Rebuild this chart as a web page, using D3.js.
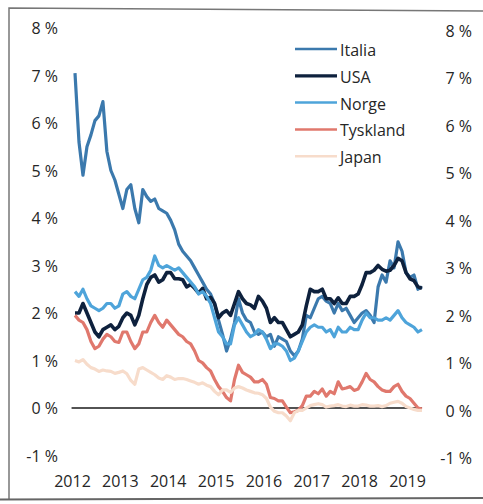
<!DOCTYPE html>
<html>
<head>
<meta charset="utf-8">
<script src="https://cdn.jsdelivr.net/npm/d3@7"></script>
<style>
  html, body { margin: 0; padding: 0; background: #fff; }
  svg { display: block; }
  text { font-family: "Open Sans", "DejaVu Sans", sans-serif; fill: #262626; }
</style>
</head>
<body>
<svg id="chart" width="483" height="504"></svg>
<script>
// ---- data (monthly, Jan 2012 – Apr 2019) ----
const startYear = 2012;
const yearTicks = [2012, 2013, 2014, 2015, 2016, 2017, 2018, 2019];
const pctTicks = [-1, 0, 1, 2, 3, 4, 5, 6, 7, 8];
const seriesNames = ["Italia", "USA", "Norge", "Tyskland", "Japan"];

const italia = [
  7.05, 5.6, 4.9, 5.5, 5.75, 6.05, 6.15, 6.45, 5.4, 5.0, 4.8, 4.5,
  4.2, 4.6, 4.7, 4.2, 3.9, 4.6, 4.45, 4.35, 4.4, 4.2, 4.15, 4.1,
  3.95, 3.75, 3.45, 3.3, 3.2, 3.1, 2.95, 2.8, 2.65, 2.5, 2.4, 2.2,
  1.85, 1.55, 1.2, 1.45, 1.8, 2.3, 2.0, 1.85, 1.8, 1.6, 1.55, 1.6,
  1.5, 1.55, 1.3, 1.5, 1.45, 1.4, 1.2, 1.1, 1.2, 1.45, 1.95, 1.9,
  2.1, 2.3, 2.35, 2.25, 2.2, 2.0, 2.2, 2.05, 2.1, 1.95, 1.8, 1.9,
  2.0, 2.05, 1.95, 1.8, 2.55, 2.8, 2.65, 3.1, 2.95, 3.5, 3.3, 2.85,
  2.75, 2.8, 2.5, 2.55
];
const usa = [
  2.0, 2.0, 2.2, 2.0, 1.8, 1.6, 1.5, 1.65, 1.7, 1.75, 1.65, 1.72,
  1.9, 2.0, 1.95, 1.75, 1.95, 2.3, 2.6, 2.75, 2.8, 2.65, 2.7, 2.85,
  2.85, 2.72, 2.72, 2.7, 2.55, 2.6, 2.52, 2.42, 2.52, 2.3, 2.33, 2.2,
  1.9, 2.0, 2.05, 1.95, 2.2, 2.45, 2.3, 2.2, 2.17, 2.1, 2.35, 2.25,
  2.1, 1.8, 1.9, 1.8, 1.8, 1.65, 1.5, 1.55, 1.6, 1.75, 2.15, 2.5,
  2.45, 2.45, 2.5, 2.3, 2.3, 2.2, 2.32, 2.2, 2.2, 2.35, 2.35, 2.4,
  2.6, 2.85, 2.85, 2.9, 3.0, 2.92, 2.88, 2.9, 3.0, 3.15, 3.1, 2.85,
  2.72, 2.68, 2.55, 2.52
];
const norge = [
  2.45, 2.35, 2.5, 2.3, 2.15, 2.1, 2.05, 2.1, 2.2, 2.2, 2.1, 2.15,
  2.4, 2.45, 2.35, 2.3, 2.5, 2.7, 2.75, 2.9, 3.2, 3.0, 2.95, 3.0,
  2.95, 2.9, 2.95, 2.85, 2.75, 2.65, 2.55, 2.4, 2.45, 2.35, 2.2, 1.9,
  1.6, 1.5, 1.35, 1.35, 1.75, 1.9, 1.75, 1.6, 1.5, 1.55, 1.65, 1.6,
  1.45, 1.25, 1.35, 1.35, 1.3, 1.2, 1.0, 1.05, 1.2, 1.4, 1.6, 1.7,
  1.75, 1.7, 1.7, 1.6, 1.65, 1.5, 1.7, 1.6, 1.6, 1.7, 1.65, 1.65,
  1.85, 2.0, 1.9, 1.9, 1.85, 1.85, 1.9, 1.85, 1.95, 2.05, 1.9, 1.8,
  1.75, 1.7, 1.6, 1.65
];
const tyskland = [
  1.95, 1.85, 1.8, 1.65, 1.4, 1.25, 1.3, 1.45, 1.55, 1.5, 1.4, 1.38,
  1.6, 1.6, 1.4, 1.25, 1.35, 1.6, 1.6, 1.8, 1.95, 1.8, 1.7, 1.85,
  1.75, 1.65, 1.55, 1.5, 1.4, 1.35, 1.2, 1.0, 0.95, 0.85, 0.78, 0.6,
  0.45, 0.35, 0.22, 0.15, 0.6, 0.9, 0.75, 0.7, 0.65, 0.55, 0.55, 0.6,
  0.5, 0.22, 0.2, 0.15, 0.15, 0.02, -0.1, -0.08, -0.05, 0.05, 0.25, 0.25,
  0.35, 0.3, 0.4, 0.25, 0.35, 0.3, 0.55, 0.4, 0.42, 0.45, 0.37, 0.4,
  0.55, 0.73, 0.6, 0.55, 0.45, 0.38, 0.35, 0.35, 0.45, 0.5, 0.35, 0.25,
  0.2, 0.1, 0.0, -0.02
];
const japan = [
  1.0, 0.97, 1.02, 0.92, 0.85, 0.82, 0.77, 0.8, 0.78, 0.77, 0.73, 0.75,
  0.78, 0.72, 0.58, 0.5, 0.82, 0.85, 0.8, 0.75, 0.7, 0.63, 0.6, 0.68,
  0.65, 0.6, 0.62, 0.62, 0.6, 0.57, 0.54, 0.5, 0.53, 0.48, 0.45, 0.35,
  0.28, 0.38, 0.38, 0.33, 0.42, 0.45, 0.42, 0.38, 0.35, 0.32, 0.31, 0.28,
  0.2, 0.02, -0.07, -0.1, -0.1, -0.17, -0.27, -0.1, -0.05, -0.05, 0.0, 0.05,
  0.07, 0.09, 0.07, 0.02, 0.04, 0.05, 0.07, 0.04, 0.03, 0.06, 0.04, 0.04,
  0.07, 0.06, 0.04, 0.04, 0.05, 0.03, 0.05, 0.1, 0.12, 0.14, 0.1, 0.03,
  0.0, -0.03, -0.05, -0.05
];

// ---- styling ----
const colors = {
  "Italia": "#3b79ad",
  "USA": "#0e213d",
  "Norge": "#4ea4da",
  "Tyskland": "#e0786d",
  "Japan": "#f7dccb"
};
const valuesBySeries = { "Italia": italia, "USA": usa, "Norge": norge, "Tyskland": tyskland, "Japan": japan };

const svg = d3.select("#chart");

// scan frame
svg.append("path")
  .attr("d", "M9,499 L9,8 L483,11")
  .attr("fill", "none").attr("stroke", "#777").attr("stroke-width", 1.5);
svg.append("line")
  .attr("x1", 0).attr("y1", 499.5).attr("x2", 483).attr("y2", 498)
  .attr("stroke", "#666").attr("stroke-width", 2);

const x = d3.scaleLinear().domain([2012, 2019]).range([73, 408]);
const y = d3.scaleLinear().domain([-1, 8]).range([455.5, 28]);

const monthTime = i => startYear + (i + 0.5) / 12;

// zero line
svg.append("line")
  .attr("x1", x(2011.97)).attr("x2", x(2019.29))
  .attr("y1", y(0)).attr("y2", y(0))
  .attr("stroke", "#1a1a1a").attr("stroke-width", 1.5);

// left axis labels
svg.append("g").selectAll("text").data(pctTicks).join("text")
  .attr("x", 58).attr("y", d => y(d))
  .attr("text-anchor", "end").attr("dominant-baseline", "central")
  .attr("font-size", 16)
  .text(d => d + " %");

// right axis labels
svg.append("g").selectAll("text").data(pctTicks).join("text")
  .attr("x", 472).attr("y", d => y(d) + 2.5)
  .attr("text-anchor", "end").attr("dominant-baseline", "central")
  .attr("font-size", 16)
  .text(d => d + " %");

// x labels
svg.append("g").selectAll("text").data(yearTicks).join("text")
  .attr("x", d => x(d) - 0.5).attr("y", 481)
  .attr("text-anchor", "middle").attr("dominant-baseline", "central")
  .attr("font-size", 16)
  .text(d => d);

// lines
const line = d3.line()
  .x((d, i) => x(monthTime(i)))
  .y(d => y(d));

seriesNames.forEach(name => {
  svg.append("path")
    .datum(valuesBySeries[name])
    .attr("fill", "none")
    .attr("stroke", colors[name])
    .attr("stroke-width", name === "USA" ? 3.6 : 3.2)
    .attr("stroke-linejoin", "round")
    .attr("d", line);
});

// legend
const legend = svg.append("g");
seriesNames.forEach((name, i) => {
  const cy = 49 + i * 26.8;
  legend.append("line")
    .attr("x1", 295).attr("x2", 337).attr("y1", cy).attr("y2", cy)
    .attr("stroke", colors[name]).attr("stroke-width", name === "USA" ? 3.2 : 2.5);
  legend.append("text")
    .attr("x", 340).attr("y", cy + 1)
    .attr("dominant-baseline", "central")
    .attr("font-size", 16)
    .text(name);
});
</script>
</body>
</html>
